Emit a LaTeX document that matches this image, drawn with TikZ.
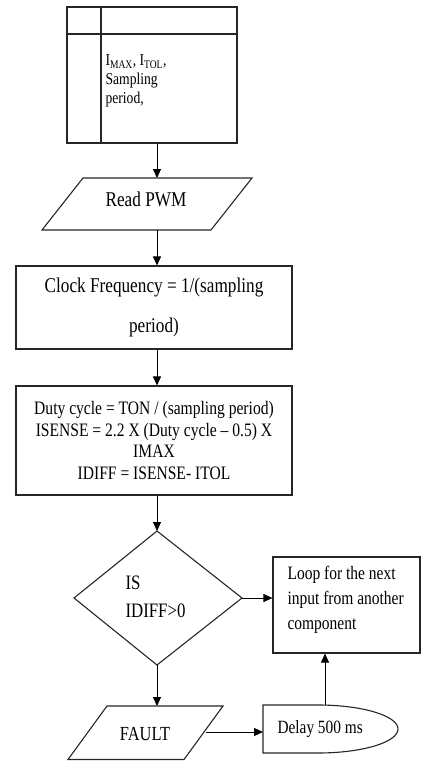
\documentclass[tikz,border=0pt]{standalone}
\usepackage{fontspec}
\setmainfont{Liberation Serif}[FakeStretch=0.82]
\usetikzlibrary{arrows.meta}
\begin{document}
\begin{tikzpicture}[x=1pt,y=-1pt,
  line width=1.1pt,
  box/.style={draw=black!85, rectangle, inner sep=0pt},
  shp/.style={draw=black!85},
  txt/.style={inner sep=0pt, align=left},
  flow/.style={draw=black, line width=0.9pt, -{Triangle[length=9pt,width=8pt]}}]
\useasboundingbox (0,0) rectangle (422,761);
% top spec box
\node[box, minimum width=170pt, minimum height=136pt] (spec) at (152,75) {};
\draw[shp] (101,7) -- (101,143);
\draw[shp] (67,34) -- (237,34);
\node[txt, anchor=west, font={\fontsize{16.6}{19}\selectfont}] (spectxt) at (105,81)
  {I\textsubscript{MAX}, I\textsubscript{TOL},\\Sampling\\period,};
% Read PWM
\draw[shp] (83,178) -- (252,178) -- (211,230) -- (42,230) -- cycle;
\node[txt, font={\fontsize{21}{24}\selectfont}] (read) at (146,199) {Read PWM};
\coordinate (readN) at (157,178);
\coordinate (readS) at (157,230);
% Clock
\node[box, minimum width=276pt, minimum height=83pt, align=center,
  font={\fontsize{21}{40}\selectfont}] (clock) at (154,307.5)
  {Clock Frequency = 1/(sampling\\period)};
% Duty
\node[box, minimum width=276pt, minimum height=109pt, align=center,
  font={\fontsize{19}{21.5}\selectfont}] (duty) at (154,440.5)
  {Duty cycle = TON / (sampling period)\\ISENSE = 2.2 X (Duty cycle -- 0.5) X\\IMAX\\IDIFF = ISENSE- ITOL};
% Diamond
\coordinate (dT) at (157,531);
\coordinate (dB) at (157,665);
\coordinate (dL) at (74,598);
\coordinate (dR) at (242,598);
\draw[shp] (dT) -- (dR) -- (dB) -- (dL) -- cycle;
\node[txt, anchor=west, font={\fontsize{20.5}{28}\selectfont}] (dtxt) at (125,597) {IS\\IDIFF>0};
% Loop box
\node[box, minimum width=147pt, minimum height=96pt] (loop) at (346.5,605) {};
\node[txt, anchor=west, font={\fontsize{18.9}{25}\selectfont}] (looptxt) at (287,600)
  {Loop for the next\\input from another\\component};
% FAULT
\draw[shp] (107,706) -- (223,706) -- (184,759.5) -- (68,759.5) -- cycle;
\node[txt, font={\fontsize{20}{24}\selectfont}] (fault) at (145,734) {FAULT};
\coordinate (faultN) at (157,706);
\coordinate (faultE) at (206,732);
% Delay
\draw[shp] (318,705) -- (263,705) -- (263,753) -- (318,753)
  arc[start angle=90, end angle=-90, x radius=80, y radius=24] -- cycle;
\node[txt, anchor=west, font={\fontsize{18.7}{22}\selectfont}] (delay) at (277,729) {Delay 500 ms};
\coordinate (delayW) at (263,732);
\coordinate (delayN) at (325,705);
% connectors
\draw[flow] (spec.south -| readN) -- (readN);
\draw[flow] (readS) -- (clock.north -| readS);
\draw[flow] (clock.south -| readS) -- (duty.north -| readS);
\draw[flow] (duty.south -| dT) -- (dT);
\draw[flow] (dR) -- (loop.west |- dR);
\draw[flow] (dB) -- (faultN);
\draw[flow] (faultE) -- (delayW);
\draw[flow] (delayN) -- (loop.south -| delayN);
\end{tikzpicture}
\end{document}
